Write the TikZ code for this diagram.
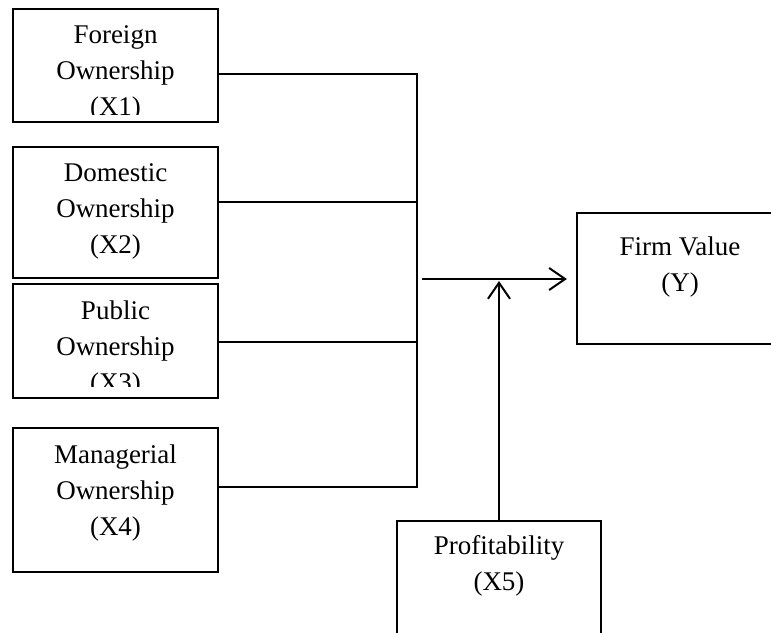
\documentclass[tikz,border=0pt]{standalone}
\usepackage{fontspec}
\setmainfont{Liberation Serif}
\usetikzlibrary{arrows.meta,positioning}

\begin{document}
\begin{tikzpicture}[
    x=0.5pt,y=-0.5pt,
    box/.style={draw,line width=1.1pt,minimum width=102.5pt,inner sep=0pt},
    lbl/.style={align=center,inner sep=0pt,font=\fontsize{13.5}{18}\selectfont},
    link/.style={line width=1pt},
    arrow/.style={-{Straight Barb[length=8pt,width=11pt,line width=1pt]},line width=1pt}
  ]
    \clip (0,0) rectangle (771,632);

    % ownership boxes
    \node[box,minimum height=56.5pt] (fo) at (115.5,65.5) {};
    \node[box,minimum height=65.5pt] (do) at (115.5,212.5) {};
    \node[box,minimum height=57pt]   (pu) at (115.5,341) {};
    \node[box,minimum height=72pt]   (ma) at (115.5,500) {};

    % dependent and moderating boxes
    \node[box,minimum width=103pt,minimum height=65.5pt] (fv) at (680,278.5) {};
    \node[box,minimum width=102pt,minimum height=67.5pt] (pr) at (499,588.5) {};

    \begin{scope}
      \clip (fo.north west) rectangle ([yshift=4.5pt]fo.south east);
      \node[lbl,below=8.5pt of fo.north] (fotxt) {Foreign\\Ownership\\(X1)};
    \end{scope}
    \node[lbl,below=8.5pt of do.north] (dotxt) {Domestic\\Ownership\\(X2)};
    \begin{scope}
      \clip (pu.north west) rectangle ([yshift=6.3pt]pu.south east);
      \node[lbl,below=8.5pt of pu.north] (putxt) {Public\\Ownership\\(X3)};
    \end{scope}
    \node[lbl,below=8.5pt of ma.north] (matxt) {Managerial\\Ownership\\(X4)};
    \node[lbl,below=12pt of fv.north] (fvtxt) {Firm Value\\(Y)};
    \node[lbl,below=7.8pt of pr.north] (prtxt) {Profitability\\(X5)};

    % bus and joints
    \coordinate (bustop) at (417,74);
    \coordinate (busbot) at (417,487);
    \coordinate (j2) at (417,202);
    \coordinate (j3) at (417,342);
    \coordinate (join) at (422,279);

    \draw[link] (fo.east |- bustop) -- (bustop) -- (busbot) -- (ma.east |- busbot);
    \draw[link] (do.east |- j2) -- (j2);
    \draw[link] (pu.east |- j3) -- (j3);
    \draw[arrow,shorten >=4.5pt] (join) -- (fv.west |- join);
    \draw[arrow,shorten >=1pt] (pr.north) -- (pr.north |- join);
  \end{tikzpicture}
\end{document}
